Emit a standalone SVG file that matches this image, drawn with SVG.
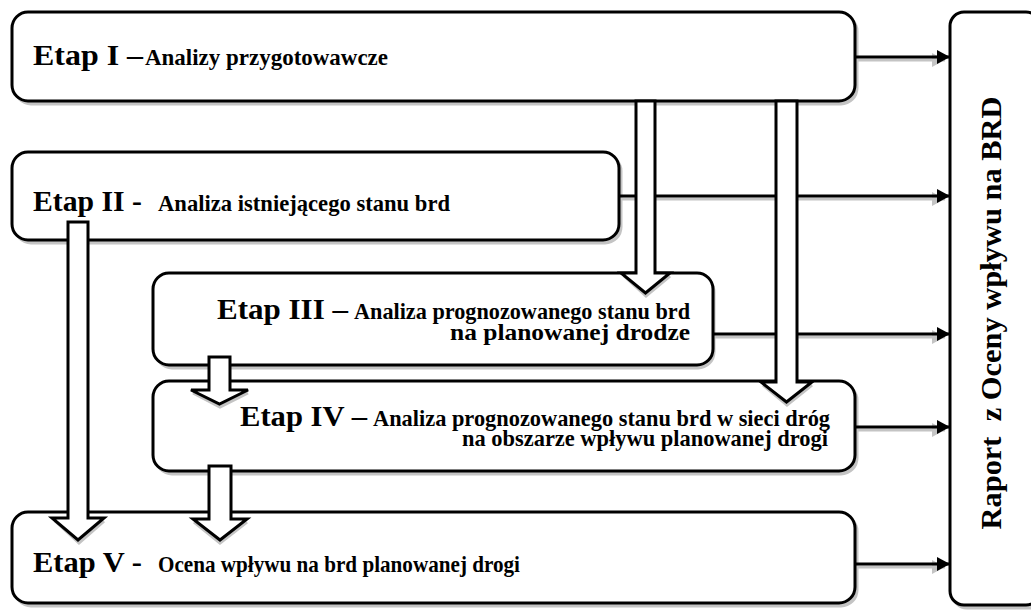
<svg xmlns="http://www.w3.org/2000/svg" width="1031" height="610" viewBox="0 0 1031 610">
<style>
.box{fill:#fff;stroke:#000;stroke-width:3}
.sh{fill:#c4c4c4;stroke:#c4c4c4;stroke-width:3}
.t{font-family:"Liberation Serif","Times New Roman",serif;font-weight:bold;fill:#000}
.big{font-size:30px}
.sm{font-size:23px}
.ln{stroke:#000;stroke-width:3;fill:none}
.lsh{stroke:#c4c4c4;stroke-width:3;fill:none}
.blk{fill:#fff;stroke:#000;stroke-width:3;stroke-linejoin:miter}
.bsh{fill:none;stroke:#c4c4c4;stroke-width:3}
</style>
<defs>
<marker id="ah" markerUnits="userSpaceOnUse" markerWidth="14" markerHeight="14" refX="13" refY="7" orient="auto">
<path d="M0,0 L13,7 L0,14 Z" fill="#000"/>
</marker>
<marker id="ahs" markerUnits="userSpaceOnUse" markerWidth="14" markerHeight="14" refX="13" refY="7" orient="auto">
<path d="M0,0 L13,7 L0,14 Z" fill="#c4c4c4"/>
</marker>
</defs>
<rect width="1031" height="610" fill="#fff"/>

<g id="report">
<rect class="sh" x="953" y="15" width="90" height="593" rx="14"/>
<rect class="box" x="950" y="12" width="90" height="593" rx="14"/>
<text class="t" font-size="30" text-anchor="middle" textLength="433" lengthAdjust="spacingAndGlyphs" transform="translate(1001,313) rotate(-90)">Raport&#160; z Oceny wpływu na BRD</text>
</g>

<g id="etap1">
<rect class="sh" x="15" y="15" width="842" height="89" rx="16"/>
<rect class="box" x="12" y="12" width="843" height="89" rx="16"/>
<text class="t big" x="33" y="65" textLength="110" lengthAdjust="spacingAndGlyphs">Etap I –</text>
<text class="t sm" x="145" y="65" textLength="243" lengthAdjust="spacingAndGlyphs">Analizy przygotowawcze</text>
</g>

<g id="etap2">
<rect class="sh" x="15" y="155" width="606" height="88" rx="16"/>
<rect class="box" x="12" y="152" width="607" height="88" rx="16"/>
<text class="t big" x="33" y="211" textLength="109" lengthAdjust="spacingAndGlyphs">Etap II -</text>
<text class="t sm" x="158" y="211" textLength="292" lengthAdjust="spacingAndGlyphs">Analiza istniejącego stanu brd</text>
</g>

<g id="etap3">
<rect class="sh" x="156" y="276" width="558" height="92" rx="16"/>
<rect class="box" x="153" y="273" width="560" height="92" rx="16"/>
<text class="t big" x="217" y="319" textLength="131" lengthAdjust="spacingAndGlyphs">Etap III –</text>
<text class="t sm" x="354" y="319" textLength="336" lengthAdjust="spacingAndGlyphs">Analiza prognozowanego stanu brd</text>
<text class="t sm" x="450" y="340" textLength="240" lengthAdjust="spacingAndGlyphs">na planowanej drodze</text>
</g>

<g id="etap4">
<rect class="sh" x="156" y="384" width="701" height="90" rx="16"/>
<rect class="box" x="153" y="381" width="702" height="90" rx="16"/>
<text class="t big" x="240" y="426" textLength="127" lengthAdjust="spacingAndGlyphs">Etap IV –</text>
<text class="t sm" x="373" y="426" textLength="457" lengthAdjust="spacingAndGlyphs">Analiza prognozowanego stanu brd w sieci dróg</text>
<text class="t sm" x="462" y="446" textLength="366" lengthAdjust="spacingAndGlyphs">na obszarze wpływu planowanej drogi</text>
</g>

<g id="etap5">
<rect class="sh" x="15" y="515" width="842" height="91" rx="16"/>
<rect class="box" x="12" y="512" width="843" height="91" rx="16"/>
<text class="t big" x="33" y="572" textLength="109" lengthAdjust="spacingAndGlyphs">Etap V -</text>
<text class="t sm" x="158" y="572" textLength="362" lengthAdjust="spacingAndGlyphs">Ocena wpływu na brd planowanej drogi</text>
</g>

<g id="connectors">
<line class="lsh" x1="857" y1="60" x2="945" y2="60" marker-end="url(#ahs)"/>
<line class="lsh" x1="621" y1="199" x2="945" y2="199" marker-end="url(#ahs)"/>
<line class="lsh" x1="715" y1="337" x2="945" y2="337" marker-end="url(#ahs)"/>
<line class="lsh" x1="857" y1="430" x2="945" y2="430" marker-end="url(#ahs)"/>
<line class="lsh" x1="857" y1="567" x2="945" y2="567" marker-end="url(#ahs)"/>
<line class="ln" x1="856" y1="57" x2="950" y2="57" marker-end="url(#ah)"/>
<line class="ln" x1="620" y1="196" x2="950" y2="196" marker-end="url(#ah)"/>
<line class="ln" x1="714" y1="334" x2="950" y2="334" marker-end="url(#ah)"/>
<line class="ln" x1="856" y1="427" x2="950" y2="427" marker-end="url(#ah)"/>
<line class="ln" x1="856" y1="564" x2="950" y2="564" marker-end="url(#ah)"/>

<polyline class="bsh" points="624,276 646,296 670,276"/>
<path class="blk" d="M636,101 L655,101 L655,273 L670,273 L645.5,293 L621,273 L636,273 Z"/>

<polyline class="bsh" points="763,385 787,405 812,385"/>
<path class="blk" d="M776,101 L797,101 L797,382 L812,382 L786.5,402 L761,382 L776,382 Z"/>

<polyline class="bsh" points="55,521 79,543 104,521"/>
<path class="blk" d="M68,222 L88,222 L88,518 L104,518 L78,540 L52,518 L68,518 Z"/>

<polyline class="bsh" points="193,393 220,407 248,393"/>
<path class="blk" d="M209,357 L230,357 L230,390 L248,390 L219.5,404 L191,390 L209,390 Z"/>

<polyline class="bsh" points="194,522 220,543 247,522"/>
<path class="blk" d="M209,466 L231,466 L231,519 L247,519 L220,540 L193,519 L209,519 Z"/>
</g>
</svg>
